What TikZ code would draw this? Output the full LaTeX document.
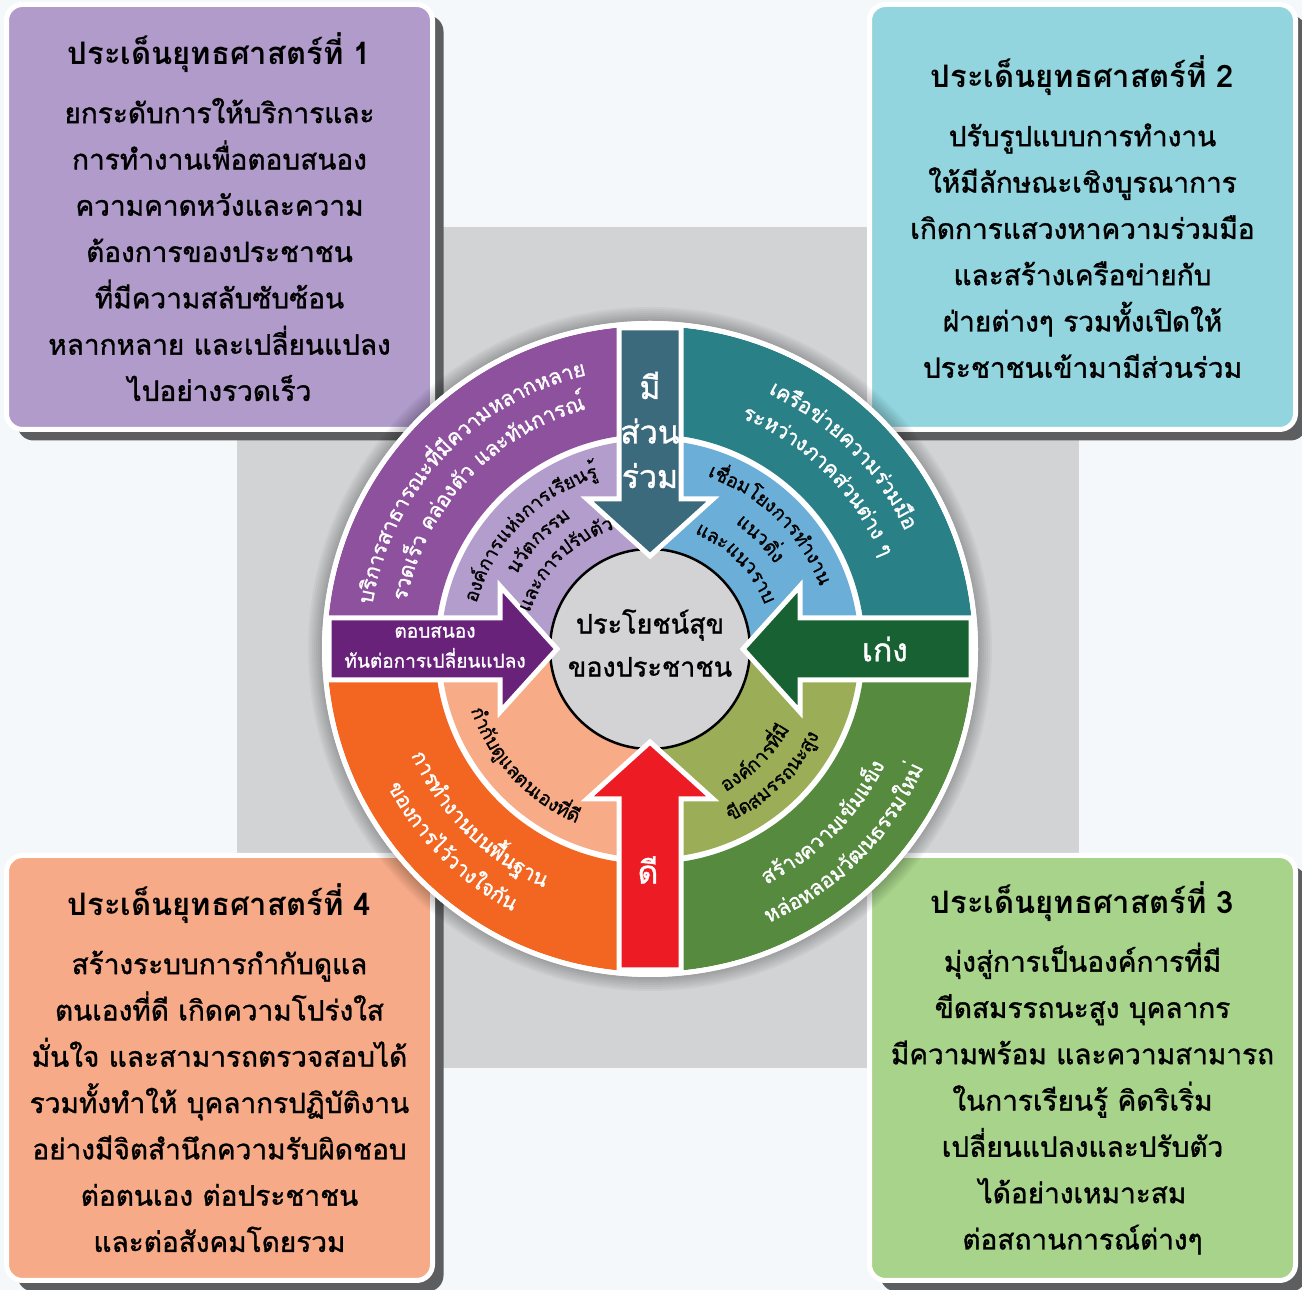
\documentclass[tikz,border=0pt]{standalone}
\usepackage{fontspec}
\setmainfont{Loma}[Script=Thai]
\newfontfamily\medfont{Loma}[Script=Thai, FakeBold=1.2]
\usetikzlibrary{decorations.text,shadows}
\definecolor{bgc}{HTML}{F4F8FB}
\definecolor{squarec}{HTML}{D2D3D5}
\definecolor{shadowc}{HTML}{5D5E60}
\definecolor{boxa}{HTML}{B09BCB}
\definecolor{boxb}{HTML}{92D5DF}
\definecolor{boxc}{HTML}{A7D38A}
\definecolor{boxd}{HTML}{F7AA87}
\definecolor{tlout}{HTML}{8D519E}
\definecolor{tlin}{HTML}{B39DCC}
\definecolor{trout}{HTML}{2A8087}
\definecolor{trin}{HTML}{6BAED8}
\definecolor{brout}{HTML}{568A3E}
\definecolor{brin}{HTML}{9BAD56}
\definecolor{blout}{HTML}{F26622}
\definecolor{blin}{HTML}{F7AB87}
\definecolor{hubc}{HTML}{D3D3D5}
\definecolor{arrtop}{HTML}{3B6A7C}
\definecolor{arrright}{HTML}{176132}
\definecolor{arrbottom}{HTML}{ED1C24}
\definecolor{arrleft}{HTML}{68227A}
\newcommand\ringw{\medfont\fontsize{21}{21}\selectfont\color{white}}
\newcommand\ringk{\medfont\fontsize{19}{19}\selectfont\color{black}}
\newcommand\boxtitle[1]{{\normalfont\bfseries\fontsize{31}{40}\selectfont #1}}
\begin{document}
\begin{tikzpicture}[x=1pt, y=1pt,
    goalbox/.style={rectangle, rounded corners=16pt, draw=white, line width=5pt,
      minimum width=426pt, minimum height=425pt, align=center,
      font=\medfont\fontsize{28}{46.3}\selectfont,
      general shadow={fill=shadowc, shadow xshift=11pt, shadow yshift=-11pt}},
    arrowlabel/.style={text=white, align=center, font=\medfont\fontsize{32}{44.5}\selectfont},
    ringtext/.style={decorate, decoration={text along path, text align=center, text={#1}}}]
  % background
  \fill[bgc] (0,0) rectangle (1302,1290);
  \useasboundingbox (0,0) rectangle (1302,1290);
  \fill[squarec] (237,222) rectangle (1079,1063);
  % strategy boxes
  \node[goalbox, fill=boxa] (goal1) at (219.5,1073) {\boxtitle{ประเด็นยุทธศาสตร์ที่ 1}\\[12pt]ยกระดับการให้บริการและ\\การทำงานเพื่อตอบสนอง\\ความคาดหวังและความ\\ต้องการของประชาชน\\ที่มีความสลับซับซ้อน\\หลากหลาย และเปลี่ยนแปลง\\ไปอย่างรวดเร็ว};
  \node[goalbox, fill=boxb] (goal2) at (1082.5,1073) {\boxtitle{ประเด็นยุทธศาสตร์ที่ 2}\\[12pt]ปรับรูปแบบการทำงาน\\ให้มีลักษณะเชิงบูรณาการ\\เกิดการแสวงหาความร่วมมือ\\และสร้างเครือข่ายกับ\\ฝ่ายต่างๆ รวมทั้งเปิดให้\\ประชาชนเข้ามามีส่วนร่วม};
  \node[goalbox, fill=boxc] (goal3) at (1082.5,222) {\boxtitle{ประเด็นยุทธศาสตร์ที่ 3}\\[12pt]มุ่งสู่การเป็นองค์การที่มี\\ขีดสมรรถนะสูง บุคลากร\\มีความพร้อม และความสามารถ\\ในการเรียนรู้ คิดริเริ่ม\\เปลี่ยนแปลงและปรับตัว\\ได้อย่างเหมาะสม\\ต่อสถานการณ์ต่างๆ};
  \node[goalbox, fill=boxd] (goal4) at (219.5,222) {\boxtitle{ประเด็นยุทธศาสตร์ที่ 4}\\[12pt]สร้างระบบการกำกับดูแล\\ตนเองที่ดี เกิดความโปร่งใส\\มั่นใจ และสามารถตรวจสอบได้\\รวมทั้งทำให้ บุคลากรปฏิบัติงาน\\อย่างมีจิตสำนึกความรับผิดชอบ\\ต่อตนเอง ต่อประชาชน\\และต่อสังคมโดยรวม};
  % wheel
  \begin{scope}[shift={(650,641)}]
    \foreach \r in {1,...,8}
      \fill[black, opacity=0.035] (0,0) circle[radius=326+2*\r];
    \fill[white] (0,0) circle[radius=328];
    \foreach \a/\co/\ci in {90/tlout/tlin, 0/trout/trin, 270/brout/brin, 180/blout/blin} {
      \fill[\co] (\a:215) arc[start angle=\a, end angle=\a+90, radius=215]
        -- ({\a+90}:323) arc[start angle=\a+90, end angle=\a, radius=323] -- cycle;
      \fill[\ci] (0,0) -- (\a:209) arc[start angle=\a, end angle=\a+90, radius=209] -- cycle;
    }
    \node[circle, fill=hubc, draw=black, line width=2.5pt, minimum size=200pt] (hub) at (0,0) {};
    \node[align=center, font=\medfont\fontsize{27}{43}\selectfont] (hubtext) at (0,6) {ประโยชน์สุข\\ของประชาชน};
    % arrows
    \foreach \rot/\co in {0/arrright, 90/arrtop, 180/arrleft, 270/arrbottom}
      \path[fill=\co, draw=white, line width=5pt, line join=miter, rotate=\rot]
        (321,31) -- (150,31) -- (150,63) -- (93,0) -- (150,-63) -- (150,-31) -- (321,-31) -- cycle;
    \draw[white, line width=5pt] (0,0) circle[radius=325.5];
    \node[arrowlabel] (lbltop) at (0,219) {มี\\ส่วน\\ร่วม};
    \node[arrowlabel] (lblright) at (235,0) {เก่ง};
    \node[arrowlabel] (lblbottom) at (-2,-221) {ดี};
    \node[arrowlabel, font=\medfont\fontsize{19}{30}\selectfont] (lblleft) at (-215,2) {ตอบสนอง\\ทันต่อการเปลี่ยนแปลง};
    % outer ring texts
    \path[ringtext={|\ringw|{บริ}{การ}{สา}{ธา}{รณะ}{ที่}{มี}{ความ}{หลาก}{หลาย}}] (182:281) arc[start angle=182, end angle=92, radius=281];
    \path[ringtext={|\ringw|{รวด}{เร็ว} {คล่อง}{ตัว} {และ}{ทัน}{การณ์}}] (182:248) arc[start angle=182, end angle=92, radius=248];
    \path[ringtext={|\ringw|{เครือ}{ข่าย}{ความ}{ร่วม}{มือ}}] (90:281) arc[start angle=90, end angle=0, radius=281];
    \path[ringtext={|\ringw|{ระ}{หว่าง}{ภาค}{ส่วน}{ต่าง} {ๆ}}] (90:248) arc[start angle=90, end angle=0, radius=248];
    \path[ringtext={|\ringw|{สร้าง}{ความ}{เข้ม}{แข็ง}}] (270:262) arc[start angle=270, end angle=360, radius=262];
    \path[ringtext={|\ringw|{หล่อ}{หลอม}{วัฒ}{น}{ธรรม}{ใหม่}}] (270:298) arc[start angle=270, end angle=360, radius=298];
    \path[ringtext={|\ringw|{การ}{ทำ}{งาน}{บน}{พื้น}{ฐาน}}] (180:261) arc[start angle=180, end angle=270, radius=261];
    \path[ringtext={|\ringw|{ของ}{การ}{ไว้}{วาง}{ใจ}{กัน}}] (180:296) arc[start angle=180, end angle=270, radius=296];
    % inner ring texts
    \path[ringtext={|\ringk|{องค์}{การ}{แห่ง}{การ}{เรียน}{รู้}}] (181:179) arc[start angle=181, end angle=91, radius=179];
    \path[ringtext={|\ringk|{นวัต}{กรรม}}] (181:152) arc[start angle=181, end angle=91, radius=152];
    \path[ringtext={|\ringk|{และ}{การ}{ปรับ}{ตัว}}] (180:125) arc[start angle=180, end angle=90, radius=125];
    \path[ringtext={|\ringk|{เชื่อม}{โยง}{การ}{ทำ}{งาน}}] (91:181) arc[start angle=91, end angle=1, radius=181];
    \path[ringtext={|\ringk|{แนว}{ดิ่ง}}] (90:151) arc[start angle=90, end angle=0, radius=151];
    \path[ringtext={|\ringk|{และ}{แนว}{ราบ}}] (90:123) arc[start angle=90, end angle=0, radius=123];
    \path[ringtext={|\ringk|{องค์}{การ}{ที่}{มี}}] (269:161) arc[start angle=269, end angle=359, radius=161];
    \path[ringtext={|\ringk|{ขีด}{สมรรถ}{นะ}{สูง}}] (269:190) arc[start angle=269, end angle=359, radius=190];
    \path[ringtext={|\ringk|{กำ}{กับ}{ดู}{แล}{ตน}{เอง}{ที่}{ดี}}] (178:189) arc[start angle=178, end angle=268, radius=189];
  \end{scope}
\end{tikzpicture}
\end{document}
